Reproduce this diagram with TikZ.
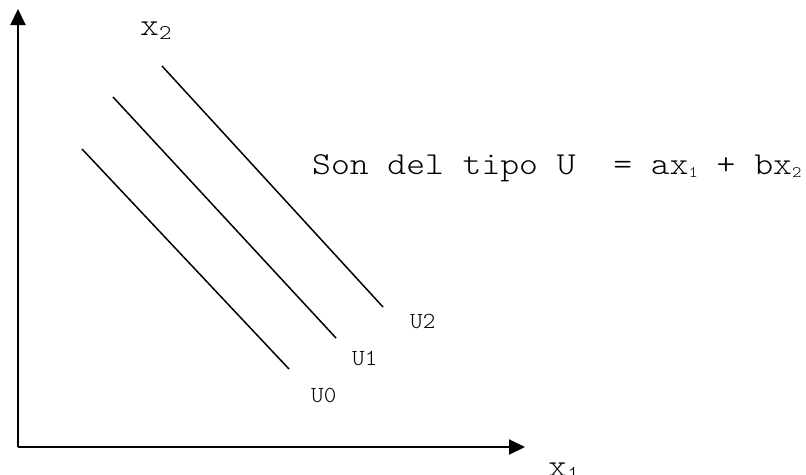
\documentclass[tikz,border=0pt]{standalone}
\usepackage{fontspec}
\newfontfamily\cour[Extension=.otf, FakeStretch=1.12]{lmmonolt10-regular}
\newfontfamily\courS[Extension=.otf, FakeStretch=1.04]{lmmonolt10-regular}
\usetikzlibrary{arrows.meta}
\newcommand\bigtxt{\cour\fontsize{32}{32}\selectfont}
\newcommand\smalltxt{\courS\fontsize{23}{23}\selectfont}
\newcommand\subA[1]{\raisebox{-4pt}{\fontsize{21}{21}\selectfont #1}}
\newcommand\subB[1]{\raisebox{-3pt}{\fontsize{16}{16}\selectfont #1}}
\tikzset{
  axis/.style={line width=2pt, -{Triangle[length=16pt,width=15pt]}},
  ucurve/.style={line width=1.5pt},
  lbl/.style={inner sep=0pt, anchor=base west, text=black},
}
\begin{document}
\begin{tikzpicture}[x=1pt,y=-1pt]
\useasboundingbox (0,0) rectangle (806,474);
\coordinate (O) at (18,447);
\coordinate (Y) at (18,9);
\coordinate (X) at (525,447);
\draw[axis] (O) -- (Y);
\draw[axis] (O) -- (X);
\coordinate (a0) at (82,149);  \coordinate (b0) at (289,369);
\coordinate (a1) at (113,97);  \coordinate (b1) at (336,338);
\coordinate (a2) at (162,66);  \coordinate (b2) at (383,307);
\draw[ucurve] (a0) -- (b0);
\draw[ucurve] (a1) -- (b1);
\draw[ucurve] (a2) -- (b2);
\node[lbl] (lx2) at (140,35) {\bigtxt x\subA{2}};
\node[lbl] (lx1) at (548,476) {\bigtxt x\subA{1}};
\node[lbl] (u2) at (410,328) {\smalltxt U2};
\node[lbl] (u1) at (352,365) {\smalltxt U1};
\node[lbl] (u0) at (311,402) {\smalltxt U0};
\node[lbl] (eq) at (312,174) {\bigtxt Son del tipo U\ \ = ax\subB{1} + bx\subB{2}};
\end{tikzpicture}
\end{document}
